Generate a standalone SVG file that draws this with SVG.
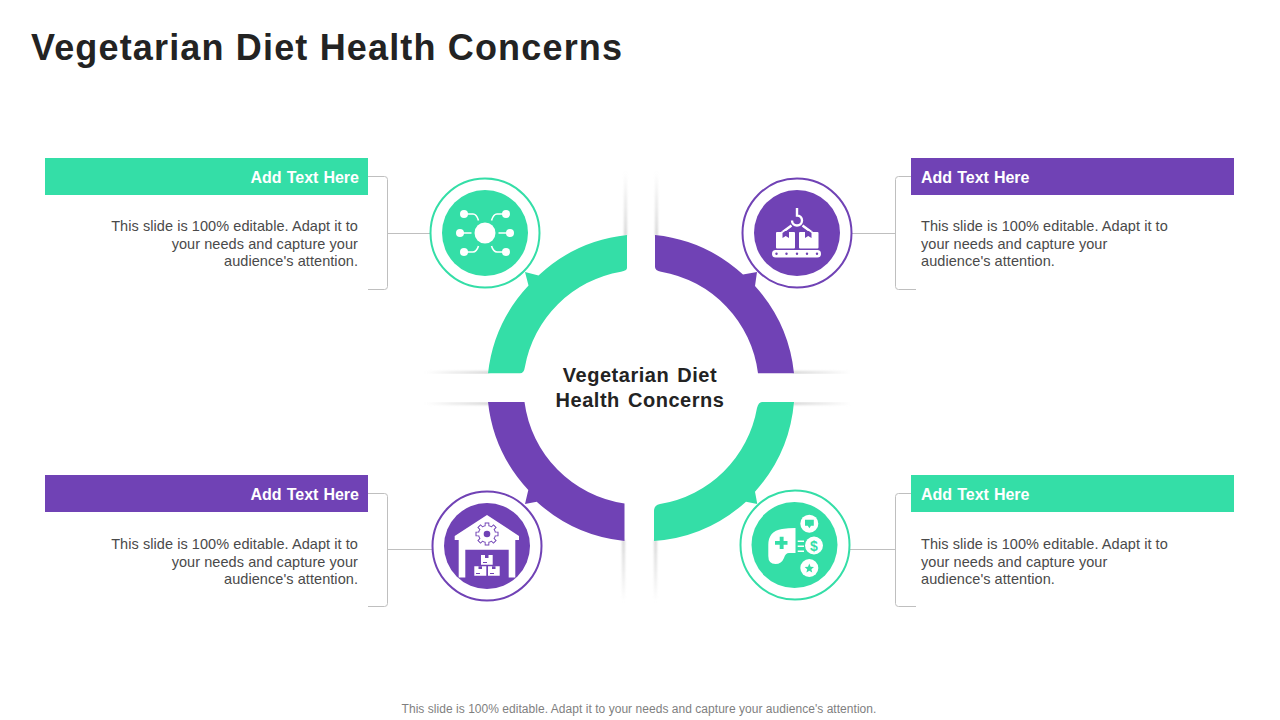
<svg xmlns="http://www.w3.org/2000/svg" width="1280" height="720" viewBox="0 0 1280 720">
<style>
text{font-family:"Liberation Sans",Arial,sans-serif}
.title{font-size:36px;font-weight:700;fill:#232323;letter-spacing:1.16px}
.head{font-size:16px;font-weight:700;fill:#fff;word-spacing:.6px}
.body{font-size:14.5px;fill:#4a4a4a;letter-spacing:.065px}
.center{font-size:20px;font-weight:700;fill:#232323;text-anchor:middle;letter-spacing:.53px;word-spacing:2px}
.foot{font-size:12px;fill:#7f7f7f;text-anchor:middle;letter-spacing:.04px}
.br{fill:none;stroke:#bfbfbf;stroke-width:1}
.g{fill:#34dea7}.p{fill:#7042b5}
.gs{fill:#fff;stroke:#34dea7;stroke-width:2}.ps{fill:#fff;stroke:#7042b5;stroke-width:2}
.w{fill:#fff}
.wl{fill:none;stroke:#fff;stroke-width:1.6}
.sh{filter:url(#blur)}
</style>
<defs>
<filter id="blur" x="-20%" y="-50%" width="140%" height="200%"><feGaussianBlur stdDeviation="1"/></filter>
<filter id="blurv" x="-100%" y="-20%" width="300%" height="140%"><feGaussianBlur stdDeviation="1"/></filter>
<linearGradient id="sv1" x1="0" y1="0" x2="0" y2="1"><stop offset="0" stop-color="#d6d6d6" stop-opacity="0"/><stop offset="1" stop-color="#d6d6d6"/></linearGradient>
<linearGradient id="sv2" x1="0" y1="0" x2="0" y2="1"><stop offset="0" stop-color="#d6d6d6"/><stop offset="1" stop-color="#d6d6d6" stop-opacity="0"/></linearGradient>
<linearGradient id="sh1" x1="0" y1="0" x2="1" y2="0"><stop offset="0" stop-color="#d6d6d6" stop-opacity="0"/><stop offset="1" stop-color="#d6d6d6"/></linearGradient>
<linearGradient id="sh2" x1="0" y1="0" x2="1" y2="0"><stop offset="0" stop-color="#d6d6d6"/><stop offset="1" stop-color="#d6d6d6" stop-opacity="0"/></linearGradient>
</defs>
<rect width="1280" height="720" fill="#fff"/>
<text class="title" x="31" y="60">Vegetarian Diet Health Concerns</text>
<g id="connectors">
<path class="br" d="M368 176.5H384.5Q387.5 176.5 387.5 179.5V286.5Q387.5 289.5 384.5 289.5H368M387.5 233.5H430"/>
<path class="br" d="M911 176.5H898.5Q895.5 176.5 895.5 179.5V286.5Q895.5 289.5 898.5 289.5H916M895.5 233.5H852"/>
<path class="br" d="M368 493.5H384.5Q387.5 493.5 387.5 496.5V603.5Q387.5 606.5 384.5 606.5H368M387.5 549.5H432"/>
<path class="br" d="M911 493.5H898.5Q895.5 493.5 895.5 496.5V603.5Q895.5 606.5 898.5 606.5H916M895.5 549.5H850"/>
</g>
<g id="ring">
<rect style="filter:url(#blurv)" x="624" y="172" width="3" height="64" fill="url(#sv1)"/>
<rect style="filter:url(#blurv)" x="655" y="172" width="3" height="64" fill="url(#sv1)"/>
<rect style="filter:url(#blurv)" x="622" y="540" width="3" height="62" fill="url(#sv2)"/>
<rect style="filter:url(#blurv)" x="654" y="540" width="3" height="62" fill="url(#sv2)"/>
<rect class="sh" x="425" y="371" width="64" height="3" fill="url(#sh1)"/>
<rect class="sh" x="425" y="402" width="64" height="3" fill="url(#sh1)"/>
<rect class="sh" x="793" y="371" width="59" height="3" fill="url(#sh2)"/>
<rect class="sh" x="793" y="402" width="59" height="3" fill="url(#sh2)"/>
<rect x="425" y="374" width="98" height="28" fill="#fff"/>
<rect x="758" y="374" width="94" height="28" fill="#fff"/>
<path class="g" d="M627 235V268Q627 270.5 621 271.7A118 118 0 0 0 524.9 367Q524 373.3 520 373.3H488A153.500 153.500 0 0 1 528.5 285.5L525 272L538.5 275.5A153.500 153.500 0 0 1 627 235Z"/>
<path class="p" d="M655 235V267Q655 270.5 661 271.7A118 118 0 0 1 758 373.3H794A153.500 153.500 0 0 0 755 286L757 272L743 274.6A153.500 153.500 0 0 0 655 235Z"/>
<path class="p" d="M488 402H524.5A118 118 0 0 0 624.5 503.5V541A153.500 153.500 0 0 1 536.7 501.7L525 504L528.3 490A153.500 153.500 0 0 1 488 402Z"/>
<path class="g" d="M794 402H762Q758.5 402 757 408A118 118 0 0 1 660 504Q654 505 654 511V541A153.500 153.500 0 0 0 746 501.7L757.3 504L755 491.7A153.500 153.500 0 0 0 794 402Z"/>
</g>
<text class="center" x="640" y="382">Vegetarian Diet</text>
<text class="center" x="640" y="407">Health Concerns</text>
<g id="node-tl">
<rect class="g" x="45" y="158" width="323" height="37"/>
<text class="head" x="359" y="183" text-anchor="end">Add Text Here</text>
<g class="body" text-anchor="end"><text x="358" y="231">This slide is 100% editable. Adapt it to</text><text x="358" y="249">your needs and capture your</text><text x="358" y="266">audience's attention.</text></g>
<circle class="gs" cx="485" cy="233" r="54.5"/>
<circle class="g" cx="485" cy="233" r="43"/>
<circle class="w" cx="485" cy="233" r="10.5"/>
<circle class="w" cx="464" cy="214" r="4"/><circle class="w" cx="506" cy="214" r="4"/><circle class="w" cx="460" cy="233" r="4"/><circle class="w" cx="510" cy="233" r="4"/><circle class="w" cx="464" cy="252" r="4"/><circle class="w" cx="506" cy="252" r="4"/>
<path class="wl" d="M464 214H473Q476.5 214 478.5 220.5M506 214H497Q493.5 214 491.5 220.5M460 233H471.5M510 233H498.5M464 252H473Q476.5 252 478.5 246M506 252H497Q493.5 252 491.5 246"/>
</g>
<g id="node-tr">
<rect class="p" x="911" y="158" width="323" height="37"/>
<text class="head" x="921" y="183">Add Text Here</text>
<g class="body"><text x="921" y="231">This slide is 100% editable. Adapt it to</text><text x="921" y="249">your needs and capture your</text><text x="921" y="266">audience's attention.</text></g>
<circle class="ps" cx="797" cy="233" r="54.5"/>
<circle class="p" cx="797" cy="233" r="43"/>
<path class="wl" style="stroke-width:2.4" d="M797 208V215.5A5 5 0 1 1 792 220.5M791.5 225.5L782 232.5M802.5 225.5L812 232.5"/>
<rect class="w" x="776" y="232" width="19" height="16.5" rx="1"/>
<rect class="w" x="799" y="232" width="19.5" height="16.5" rx="1"/>
<path class="p" d="M782.5 231H789V238L785.7 236L782.5 238ZM805 231H811.5V238L808.2 236L805 238Z"/>
<path class="wl" style="stroke-width:1.4" d="M790.5 226.5L782 232.5M803.5 226.5L812 232.5"/>
<rect class="w" x="772" y="250" width="49" height="7.5" rx="3.7"/>
<g class="p"><circle cx="776.5" cy="253.8" r="1.2"/><circle cx="786.5" cy="253.8" r="1.2"/><circle cx="797" cy="253.8" r="1.2"/><circle cx="807" cy="253.8" r="1.2"/><circle cx="817" cy="253.8" r="1.2"/></g>
</g>
<g id="node-bl">
<rect class="p" x="45" y="475" width="323" height="37"/>
<text class="head" x="359" y="500" text-anchor="end">Add Text Here</text>
<g class="body" text-anchor="end"><text x="358" y="549">This slide is 100% editable. Adapt it to</text><text x="358" y="567">your needs and capture your</text><text x="358" y="584">audience's attention.</text></g>
<circle class="ps" cx="487" cy="546" r="54.5"/>
<circle class="p" cx="487" cy="546" r="43"/>
<path class="w" d="M487 515L519 536V540H515.3V577.5H508.7V549.7H465.3V577.5H458.7V540H454.7V536Z"/>
<g transform="translate(487 534)">
<g fill="none" stroke="#7042b5" stroke-width="4.6"><path d="M-11.5 0H11.5M0 -11.5V11.5M-8.1 -8.1L8.1 8.1M-8.1 8.1L8.1 -8.1"/></g>
<circle class="p" r="9"/>
<g fill="none" stroke="#fff" stroke-width="2.8"><path d="M-10.5 0H10.5M0 -10.5V10.5M-7.4 -7.4L7.4 7.4M-7.4 7.4L7.4 -7.4"/></g>
<circle class="w" r="8"/>
<circle class="p" r="3.3"/>
</g>
<path class="w" d="M481 555H492.7V564.7H481ZM474.3 566.3H486.3V575.7H474.3ZM488 566.3H499.7V575.7H488Z"/>
<path class="p" d="M485 555H488.5V558H485ZM478.5 566.3H482V569H478.5ZM492 566.3H495.5V569H492ZM476 573H480V574H476ZM490 573H494V574H490ZM483 562H487V563H483Z"/>
</g>
<g id="node-br">
<rect class="g" x="911" y="475" width="323" height="37"/>
<text class="head" x="921" y="500">Add Text Here</text>
<g class="body"><text x="921" y="549">This slide is 100% editable. Adapt it to</text><text x="921" y="567">your needs and capture your</text><text x="921" y="584">audience's attention.</text></g>
<circle class="gs" cx="795" cy="545" r="54.5"/>
<circle class="g" cx="794.5" cy="545" r="43"/>
<path class="w" d="M795.5 528V553H789Q785.5 553 784 558Q781.5 564 775.5 564Q768.3 564 768.3 556V545Q768.3 531 782 529Q788 528 795.5 528Z"/>
<path class="g" d="M775 541H779.7V536.8H783.6V541H787.5V544.8H783.6V549H779.7V544.8H775Z"/>
<path class="wl" d="M797.7 541.3H804M797.7 546.3H804M797.7 551.3H804"/>
<circle class="w" cx="809.3" cy="523.7" r="9"/><circle class="w" cx="814" cy="545.5" r="9"/><circle class="w" cx="809.3" cy="568" r="9"/>
<path class="g" d="M805 519.7H813.8V525.7H811L809.4 528.3L807.8 525.7H805ZM809.3 563.5L810.6 566.7L814 567L811.4 569.2L812.2 572.5L809.3 570.7L806.4 572.5L807.2 569.2L804.6 567L808 566.7Z"/>
<text x="814" y="550.5" text-anchor="middle" font-size="14" font-weight="700" fill="#34dea7">$</text>
</g>
<text class="foot" x="639" y="713">This slide is 100% editable. Adapt it to your needs and capture your audience's attention.</text>
</svg>
